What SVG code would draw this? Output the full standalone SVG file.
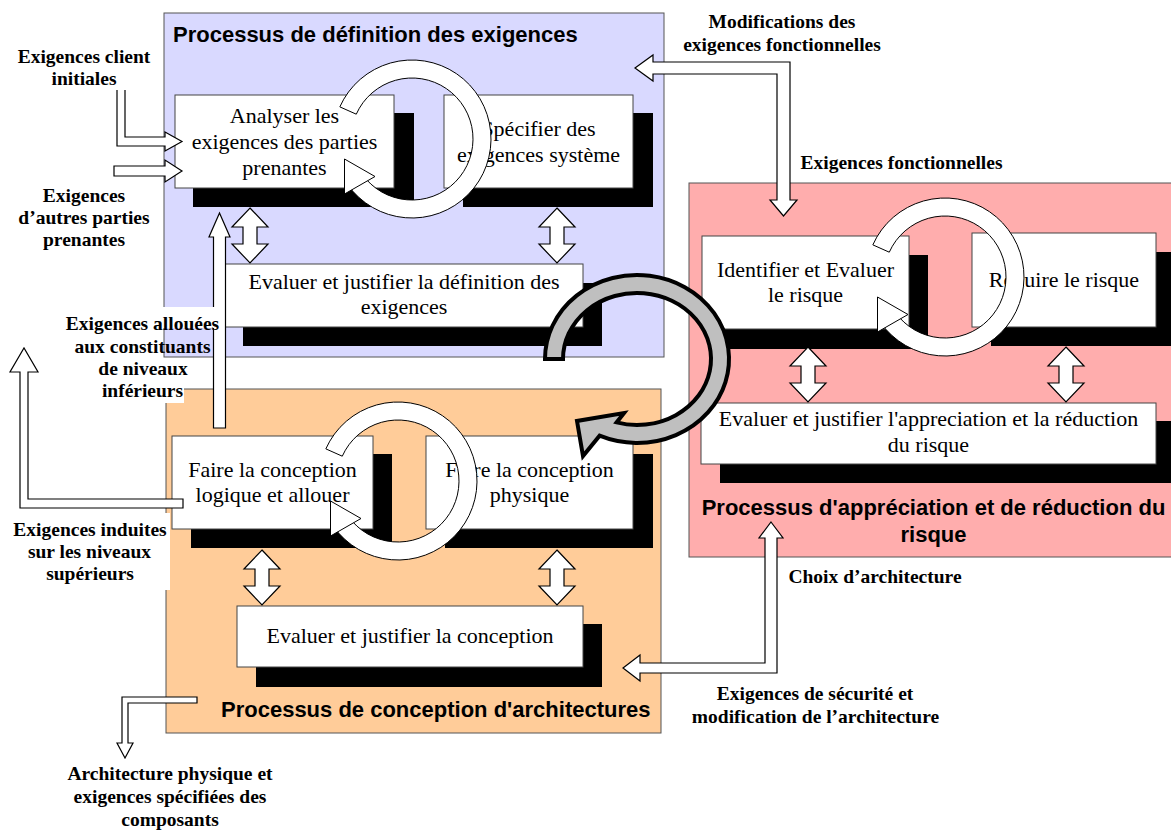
<svg xmlns="http://www.w3.org/2000/svg" xmlns:xlink="http://www.w3.org/1999/xlink" width="1171" height="830" viewBox="0 0 1171 830">
<style>
.cont{stroke:#555;stroke-width:1}
.box{fill:#fff;stroke:#444;stroke-width:1}
.sh{fill:#000}
.ar{fill:#fff;stroke:#000;stroke-width:1.2;stroke-linejoin:miter}
.cy path{fill:#fff;stroke:#000;stroke-width:1}
.bt{font-family:"Liberation Serif","Times New Roman",serif;font-size:22px;text-anchor:middle;fill:#000}
.lb{font-family:"Liberation Serif","Times New Roman",serif;font-weight:bold;font-size:19.5px;text-anchor:middle;fill:#000}
.tt{font-family:"Liberation Sans",Arial,sans-serif;font-weight:bold;font-size:22px;fill:#000}
</style>
<defs>
<path id="dbl" class="ar" d="M0,0 L18,19 L7,19 L7,36 L18,36 L0,55 L-18,36 L-7,36 L-7,19 L-18,19 Z"/>
<g id="cyc" class="cy">
<path d="M-72.17,-32.13 A79,79 0 1,1 -64.71,45.31 L-49.97,34.99 A61,61 0 1,0 -55.72,-24.81 Z"/>
<path d="M-67.5,20 L-37,37.5 L-67.5,55 Z"/>
</g>
</defs>
<rect width="1171" height="830" fill="#fff"/>

<g id="proc-definition">
<rect class="cont" x="164" y="13" width="500" height="344" fill="#D9D9FF"/>
<text class="tt" x="173" y="42">Processus de définition des exigences</text>
<g id="analyser">
<rect class="sh" x="193" y="113" width="221" height="94"/>
<rect class="box" x="175" y="95" width="219" height="93"/>
<text class="bt" x="284.5" y="123">Analyser les</text>
<text class="bt" x="284.5" y="149">exigences des parties</text>
<text class="bt" x="284.5" y="175">prenantes</text>
</g>
<g id="specifier">
<rect class="sh" x="463" y="113" width="190" height="94"/>
<rect class="box" x="444" y="95" width="189" height="93"/>
<text class="bt" x="538.5" y="136">Spécifier des</text>
<text class="bt" x="538.5" y="162">exigences système</text>
</g>
<g id="evaluer-def">
<rect class="sh" x="243" y="283" width="359" height="63"/>
<rect class="box" x="225" y="264" width="358" height="63"/>
<text class="bt" x="404" y="289">Evaluer et justifier la définition des</text>
<text class="bt" x="404" y="314">exigences</text>
</g>
<use xlink:href="#dbl" href="#dbl" x="250" y="208"/>
<use xlink:href="#dbl" href="#dbl" x="557" y="208"/>
<use xlink:href="#cyc" href="#cyc" transform="translate(412,139)"/>
</g>

<g id="proc-conception">
<rect class="cont" x="166" y="389" width="495" height="344" fill="#FFCC99"/>
<g id="logique">
<rect class="sh" x="191" y="454" width="201" height="94"/>
<rect class="box" x="172" y="436" width="201" height="93"/>
<text class="bt" x="272.5" y="477">Faire la conception</text>
<text class="bt" x="272.5" y="502">logique et allouer</text>
</g>
<g id="physique">
<rect class="sh" x="445" y="454" width="208" height="94"/>
<rect class="box" x="426" y="436" width="207" height="93"/>
<text class="bt" x="529.5" y="477">Faire la conception</text>
<text class="bt" x="529.5" y="502">physique</text>
</g>
<g id="evaluer-conc">
<rect class="sh" x="256" y="624" width="346" height="63"/>
<rect class="box" x="237" y="606" width="346" height="61"/>
<text class="bt" x="410" y="643">Evaluer et justifier la conception</text>
</g>
<text class="tt" x="221" y="717">Processus de conception d'architectures</text>
<use xlink:href="#dbl" href="#dbl" x="262" y="550"/>
<use xlink:href="#dbl" href="#dbl" x="557" y="550"/>
<use xlink:href="#cyc" href="#cyc" transform="translate(398,481)"/>
</g>

<g id="proc-risque">
<rect class="cont" x="689" y="183" width="495" height="374" fill="#FFADAD"/>
<g id="identifier">
<rect class="sh" x="720" y="255" width="208" height="94"/>
<rect class="box" x="702" y="236" width="207" height="93"/>
<text class="bt" x="805.5" y="277">Identifier et Evaluer</text>
<text class="bt" x="805.5" y="302">le risque</text>
</g>
<g id="reduire">
<rect class="sh" x="991" y="252" width="190" height="94"/>
<rect class="box" x="972" y="233" width="184" height="94"/>
<text class="bt" x="1064" y="287">Réduire le risque</text>
</g>
<g id="evaluer-risque">
<rect class="sh" x="720" y="421" width="460" height="62"/>
<rect class="box" x="701" y="403" width="455" height="61"/>
<text class="bt" x="928.5" y="426">Evaluer et justifier l'appreciation et la réduction</text>
<text class="bt" x="928.5" y="452">du risque</text>
</g>
<text class="tt" x="933.5" y="515" text-anchor="middle">Processus d'appréciation et de réduction du</text>
<text class="tt" x="933.5" y="542" text-anchor="middle">risque</text>
<use xlink:href="#dbl" href="#dbl" x="808" y="347"/>
<use xlink:href="#dbl" href="#dbl" x="1066" y="347"/>
<use xlink:href="#cyc" href="#cyc" transform="translate(945,277)"/>
</g>

<g id="connectors">
<path class="ar" d="M117,90 L117,146 L165,146 L165,151 L182,141.5 L165,132 L165,137 L125,137 L125,90"/>
<path class="ar" d="M114,166 L165,166 L165,160 L182,171 L165,182 L165,176 L114,176 Z"/>
<path class="ar" d="M213.5,428 L213.5,237 L209,237 L219.5,213 L230,237 L225.5,237 L225.5,428 Z"/>
<path class="ar" d="M183,499 L28,499 L28,372 L38,372 L24,348 L10,372 L20,372 L20,508 L183,508 Z"/>
<path class="ar" d="M197,697 L122,697 L122,743 L117,743 L125,758 L133,743 L128,743 L128,703 L197,703 Z"/>
<path class="ar" d="M635,68 L653,55 L653,62 L790,62 L790,200 L797,200 L783.5,216 L770,200 L777,200 L777,74 L653,74 L653,81 Z"/>
<path class="ar" d="M771,522 L783,538 L777,538 L777,673 L640,673 L640,681 L623,668 L640,655 L640,663 L765,663 L765,538 L759,538 Z"/>
</g>

<g id="labels">
<text class="lb" x="84" y="63">Exigences client</text>
<text class="lb" x="84" y="85">initiales</text>
<text class="lb" x="84" y="202">Exigences</text>
<text class="lb" x="84" y="224">d’autres parties</text>
<text class="lb" x="84" y="246">prenantes</text>
<rect x="63" y="307" width="159" height="21" fill="#fff"/>
<rect x="100" y="386" width="84" height="17" fill="#fff"/>
<text class="lb" x="142.5" y="330">Exigences allouées</text>
<text class="lb" x="142.5" y="353">aux constituants</text>
<text class="lb" x="143" y="375">de niveaux</text>
<text class="lb" x="142.5" y="397">inférieurs</text>
<rect x="8" y="513" width="162" height="77" fill="#fff"/>
<text class="lb" x="90" y="536">Exigences induites</text>
<text class="lb" x="89.5" y="558">sur les niveaux</text>
<text class="lb" x="90" y="580">supérieurs</text>
<text class="lb" x="170" y="780">Architecture physique et</text>
<text class="lb" x="170" y="803">exigences spécifiées des</text>
<text class="lb" x="170" y="826">composants</text>
<text class="lb" x="782" y="28">Modifications des</text>
<text class="lb" x="782" y="51">exigences fonctionnelles</text>
<text class="lb" x="901.5" y="169">Exigences fonctionnelles</text>
<text class="lb" x="875" y="583">Choix d’architecture</text>
<text class="lb" x="815" y="700">Exigences de sécurité et</text>
<text class="lb" x="815.5" y="723">modification de l’architecture</text>
</g>

<g id="global-cycle">
<path d="M545,359 A92,84 0 1,1 599.6,435.7 L583,456 L577,421 L624,413 L616.6,422.4 A74,66 0 1,0 563,359 Z" fill="#BFBFBF" stroke="#000" stroke-width="4" stroke-linejoin="miter"/>
</g>
</svg>
